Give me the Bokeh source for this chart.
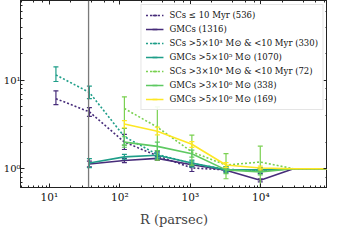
import math
import numpy as np
from bokeh.plotting import figure
from bokeh.models import (ColumnDataSource, Range1d, LogAxis, Span, Legend, LegendItem,
                          CustomJSTickFormatter, LogTicker)
from bokeh.embed import file_html
from bokeh.resources import INLINE

nan = float("nan")

# ---- data ----
radius_pc = [12.4, 37, 116, 340, 1050, 3200, 9800, 29000, 100000]
r_cut = 36

labels = [
    "SCs \u2264 10 Myr (536)",
    "GMCs (1316)",
    "SCs >5\u00d710\u00b3 M\u2299 & <10 Myr (330)",
    "GMCs >5\u00d710\u2075 M\u2299 (1070)",
    "SCs >3\u00d710\u2074 M\u2299 & <10 Myr (72)",
    "GMCs >3\u00d710\u2076 M\u2299 (338)",
    "GMCs >5\u00d710\u2076 M\u2299 (169)",
]
colors = ["#472c7a", "#472c7a", "#1f9e89", "#1f9e89", "#7ad151", "#5ec962", "#fde725"]
dashed = [True, False, True, False, True, False, False]

sc_young = [6.2, 4.4, 2.0, 1.4, 1.02, 0.97, 0.95, 1.0, 1.0]
sc_young_lo = [5.3, 3.9, 1.65, 1.25, 0.93, 0.90, 0.88, nan, nan]
sc_young_hi = [7.6, 4.9, 2.45, 1.55, 1.10, 1.04, 1.02, nan, nan]

gmc_all = [nan, 1.13, 1.24, 1.31, 1.11, 0.96, 0.74, 1.0, 1.0]
gmc_all_lo = [nan, 1.05, 1.17, 1.25, 1.06, 0.93, 0.71, nan, nan]
gmc_all_hi = [nan, 1.22, 1.31, 1.38, 1.16, 0.99, 0.77, nan, nan]

sc_5e3 = [11.5, 7.3, 2.3, 1.45, 1.15, 0.98, 0.96, 1.0, 1.0]
sc_5e3_lo = [9.7, 6.2, 1.85, 1.30, 1.05, 0.92, 0.90, nan, nan]
sc_5e3_hi = [14.2, 8.6, 2.85, 1.60, 1.25, 1.05, 1.02, nan, nan]

gmc_5e5 = [nan, 1.16, 1.36, 1.42, 1.16, 0.97, 0.97, 1.0, 1.0]
gmc_5e5_lo = [nan, 1.03, 1.28, 1.35, 1.10, 0.94, 0.93, nan, nan]
gmc_5e5_hi = [nan, 1.30, 1.45, 1.50, 1.22, 1.00, 1.01, nan, nan]

sc_3e4 = [nan, nan, 4.8, 2.95, 1.55, 1.10, 1.19, 1.0, 1.0]
sc_3e4_lo = [nan, nan, 1.85, 1.25, 1.10, 0.77, 0.55, nan, nan]
sc_3e4_hi = [nan, nan, 6.5, 5.0, 2.4, 1.48, 1.80, nan, nan]

gmc_3e6 = [nan, nan, 2.0, 1.79, 1.48, 0.97, 0.92, 1.0, 1.0]
gmc_3e6_lo = [nan, nan, 1.75, 1.60, 1.35, 0.88, 0.85, nan, nan]
gmc_3e6_hi = [nan, nan, 2.30, 2.00, 1.62, 1.06, 1.00, nan, nan]

gmc_5e6 = [nan, nan, 3.2, 2.66, 1.89, 1.10, 1.02, 1.0, 1.0]
gmc_5e6_lo = [nan, nan, 2.9, 2.42, 1.74, 1.03, 0.97, nan, nan]
gmc_5e6_hi = [nan, nan, 3.5, 2.96, 2.03, 1.17, 1.07, nan, nan]

series = [
    (sc_young, sc_young_lo, sc_young_hi),
    (gmc_all, gmc_all_lo, gmc_all_hi),
    (sc_5e3, sc_5e3_lo, sc_5e3_hi),
    (gmc_5e5, gmc_5e5_lo, gmc_5e5_hi),
    (sc_3e4, sc_3e4_lo, sc_3e4_hi),
    (gmc_3e6, gmc_3e6_lo, gmc_3e6_hi),
    (gmc_5e6, gmc_5e6_lo, gmc_5e6_hi),
]

FONT = "DejaVu Serif"

p = figure(width=327, height=229, x_axis_type="log", y_axis_type="log",
           x_range=Range1d(3.9, 88000), y_range=Range1d(0.613, 80),
           output_backend="svg", toolbar_location=None,
           min_border_left=0, min_border_right=0, min_border_top=0, min_border_bottom=0)
p.grid.visible = False
p.outline_line_color = "#222222"
p.background_fill_color = "white"
p.border_fill_color = "white"

sup_js = """
const e = Math.round(Math.log10(tick));
const m = {"0":"\u2070","1":"\u00b9","2":"\u00b2","3":"\u00b3","4":"\u2074","5":"\u2075","-":"\u207b"};
return "10" + String(e).split("").map(c => m[c]).join("");
"""
blank_js = "return '';"

def style_axis(ax, labels_on=True):
    ax.major_tick_in = 4
    ax.major_tick_out = 0
    ax.minor_tick_in = 2
    ax.minor_tick_out = 0
    ax.axis_line_color = "#222222"
    ax.major_tick_line_color = "#222222"
    ax.minor_tick_line_color = "#222222"
    ax.major_label_text_font = FONT
    ax.major_label_text_font_size = "10.5px"
    ax.major_label_text_color = "#111111"
    if labels_on:
        ax.formatter = CustomJSTickFormatter(code=sup_js)
        ax.major_label_standoff = 3
    else:
        ax.formatter = CustomJSTickFormatter(code=blank_js)
        ax.major_label_text_font_size = "1px"
        ax.major_label_standoff = 0

style_axis(p.xaxis[0])
style_axis(p.yaxis[0])
p.yaxis[0].major_label_standoff = 0
p.yaxis[0].major_label_text_font_size = "10px"
p.xaxis[0].axis_label = "R (parsec)"
p.xaxis[0].axis_label_text_font = FONT
p.xaxis[0].axis_label_text_font_size = "13px"
p.xaxis[0].axis_label_text_font_style = "normal"
p.xaxis[0].axis_label_standoff = 6

top_ax = LogAxis()
style_axis(top_ax, labels_on=False)
p.add_layout(top_ax, "above")
right_ax = LogAxis()
style_axis(right_ax, labels_on=False)
p.add_layout(right_ax, "right")

p.add_layout(Span(location=r_cut, dimension="height", line_color="#7a7a7a", line_width=1.3))

items = []
for (yv, lo, hi), col, dsh, lab in zip(series, colors, dashed, labels):
    src = ColumnDataSource(dict(x=radius_pc, y=yv))
    ln = p.line("x", "y", source=src, line_color=col, line_width=1.6,
                line_dash="2 2" if dsh else "solid")
    ex, elo, ehi, ey = [], [], [], []
    for xi, yi, l, h in zip(radius_pc, yv, lo, hi):
        if not (math.isnan(l) or math.isnan(h) or math.isnan(yi)):
            ex.append(xi); elo.append(l); ehi.append(h); ey.append(yi)
    esrc = ColumnDataSource(dict(x=ex, lo=elo, hi=ehi, y=ey))
    p.segment(x0="x", y0="lo", x1="x", y1="hi", source=esrc, line_color=col, line_width=1.2)
    p.scatter("x", "lo", source=esrc, marker="dash", size=5, line_color=col, line_width=1.2)
    p.scatter("x", "hi", source=esrc, marker="dash", size=5, line_color=col, line_width=1.2)
    leg = p.scatter("x", "y", source=esrc, marker="dash", size=0, angle=math.pi / 2,
                    line_color=col, line_width=1.4)
    items.append(LegendItem(label=lab, renderers=[ln, leg]))

legend = Legend(items=items, location="top_right")
legend.label_text_font = FONT
legend.label_text_font_size = "8.5px"
legend.label_text_color = "#111111"
legend.glyph_height = 12
legend.glyph_width = 18
legend.label_height = 12
legend.spacing = 2
legend.padding = 4
legend.margin = 4
legend.label_standoff = 6
legend.border_line_color = "#cccccc"
legend.background_fill_alpha = 0.9
p.add_layout(legend)

open("out.html", "w").write(file_html(p, INLINE))
